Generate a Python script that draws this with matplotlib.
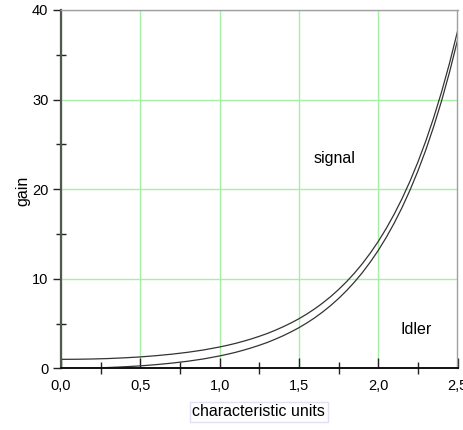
import matplotlib
matplotlib.use("Agg")
import matplotlib.pyplot as plt
from matplotlib.ticker import MultipleLocator, FuncFormatter

plt.rcParams['font.family'] = ['Liberation Sans', 'DejaVu Sans']

x_values = [0.0, 0.1, 0.2, 0.3, 0.4, 0.5, 0.6, 0.7, 0.8, 0.9, 1.0, 1.05, 1.1,
            1.15, 1.2, 1.25, 1.3, 1.35, 1.4, 1.45, 1.5, 1.55, 1.6, 1.65, 1.7,
            1.75, 1.8, 1.85, 1.9, 1.95, 2.0, 2.05, 2.1, 2.15, 2.2, 2.25, 2.3,
            2.35, 2.4, 2.45, 2.5]
signal_gain = [1.00, 1.01, 1.04, 1.09, 1.17, 1.27, 1.41, 1.58, 1.79, 2.05, 2.38,
               2.57, 2.78, 3.02, 3.28, 3.57, 3.88, 4.24, 4.63, 5.06, 5.53,
               6.06, 6.64, 7.29, 8.00, 8.79, 9.66, 10.62, 11.68, 12.86, 14.15,
               15.59, 17.18, 18.93, 20.87, 23.01, 25.37, 27.99, 30.88, 34.08,
               37.61]
idler_gain = [0.00, 0.01, 0.04, 0.09, 0.17, 0.27, 0.41, 0.58, 0.79, 1.05, 1.38,
              1.57, 1.78, 2.02, 2.28, 2.57, 2.88, 3.24, 3.63, 4.06, 4.53,
              5.06, 5.64, 6.29, 7.00, 7.79, 8.66, 9.62, 10.68, 11.86, 13.15,
              14.59, 16.18, 17.93, 19.87, 22.01, 24.37, 26.99, 29.88, 33.08,
              36.61]

x_label = "characteristic units"
y_label = "gain"
signal_text = "signal"
idler_text = "Idler"

fig = plt.figure(figsize=(4.64, 4.30), dpi=100)
ax = fig.add_axes([61/464, 1-368.3/430, (457.5-61)/464, (368.3-10)/430])

ax.plot(x_values, signal_gain, color='#333333', lw=0.9)
ax.plot(x_values, idler_gain, color='#333333', lw=0.9)

ax.set_xlim(0, 2.5)
ax.set_ylim(0, 40)

ax.xaxis.set_major_locator(MultipleLocator(0.5))
ax.xaxis.set_minor_locator(MultipleLocator(0.25))
ax.yaxis.set_major_locator(MultipleLocator(10))
ax.yaxis.set_minor_locator(MultipleLocator(5))

ax.xaxis.set_major_formatter(FuncFormatter(lambda v, p: f"{v:.1f}".replace('.', ',')))
ax.yaxis.set_major_formatter(FuncFormatter(lambda v, p: f"{v:.0f}"))

ax.grid(True, which='major', color='#a6f0a6', lw=1.0)
ax.set_axisbelow(True)

ax.tick_params(axis='x', which='major', direction='in', length=7, width=1,
               color='#222222', labelsize=10.5, pad=8)
ax.tick_params(axis='x', which='minor', direction='inout', length=8, width=1,
               color='#222222')
ax.tick_params(axis='y', which='major', direction='out', length=6, width=1,
               color='#222222', labelsize=10.5, pad=3)
ax.tick_params(axis='y', which='minor', direction='inout', length=7, width=1,
               color='#222222')

for side in ('top', 'right'):
    ax.spines[side].set_color('#a0a0a0')
    ax.spines[side].set_linewidth(1.0)
ax.spines['left'].set_color('#555555')
ax.spines['left'].set_linewidth(1.6)
ax.spines['bottom'].set_color('#111111')
ax.spines['bottom'].set_linewidth(1.4)

ax.text(1.727, 23.4, signal_text, fontsize=11.5, ha='center', va='center')
ax.text(2.238, 4.3, idler_text, fontsize=11.5, ha='center', va='center')

fig.text(258.7/464, 1-412/430, x_label, fontsize=11.5, ha='center', va='center',
         bbox=dict(boxstyle='square,pad=0.15', fc='white', ec='#e0e0f4', lw=1))
fig.text(22.5/464, 1-191/430, y_label, fontsize=11.5, ha='center', va='center',
         rotation=90)

fig.savefig("out.png", dpi=100)
